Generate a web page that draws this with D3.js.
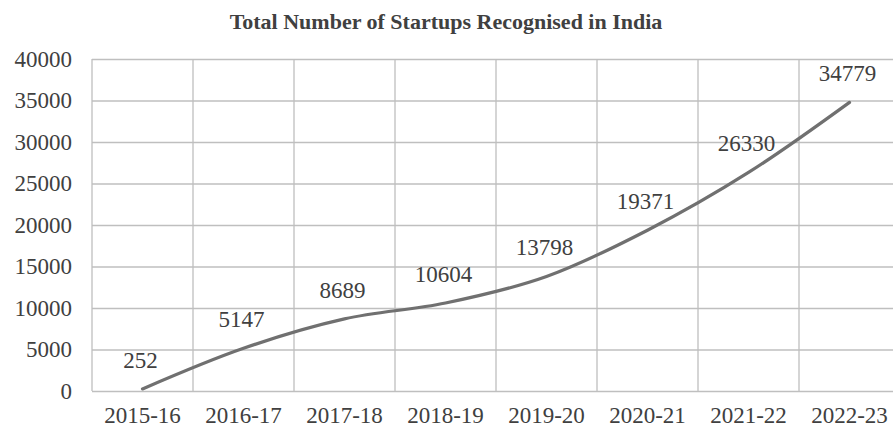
<!DOCTYPE html>
<html>
<head>
<meta charset="utf-8">
<script src="https://cdn.jsdelivr.net/npm/d3@7"></script>
<style>
    body{margin:0;background:#fff;}
    .canvas{width:893px;height:428px;}
</style>
</head>
<body>
<div class="canvas" id="canvas"></div>
<script>
//data
var years = ['2015-16','2016-17','2017-18','2018-19','2019-20','2020-21','2021-22','2022-23'];
var startups = [252,5147,8689,10604,13798,19371,26330,34779];
var yTicks = [0,5000,10000,15000,20000,25000,30000,35000,40000];

var rows = years.map(function(y,i){ return {year:y, count:startups[i]}; });

var serif = '"Liberation Serif","Times New Roman","DejaVu Serif",serif';

var m = {t:59,r:-7,b:37,l:92};
var outerWidth = 893, outerHeight = 428;
var w = outerWidth - m.l - m.r,
    h = outerHeight - m.t - m.b;

var svg = d3.select('.canvas')
    .append('svg')
    .attr('width',outerWidth)
    .attr('height',outerHeight);

svg.append('text')
    .attr('x',446)
    .attr('y',29)
    .attr('text-anchor','middle')
    .style('font-family',serif)
    .style('font-weight','bold')
    .style('font-size','22px')
    .style('fill','#404040')
    .text('Total Number of Startups Recognised in India');

var plot = svg.append('g')
    .attr('transform','translate(' + m.l + ',' + m.t + ')');

var scaleX = d3.scaleBand()
    .domain(years)
    .range([0,w]);
var scaleY = d3.scaleLinear()
    .domain([0,40000])
    .range([h,0]);

//horizontal grid + y labels
var axisY = d3.axisLeft()
    .scale(scaleY)
    .tickValues(yTicks)
    .tickSize(-w)
    .tickPadding(20)
    .tickFormat(d3.format('d'));

var gY = plot.append('g')
    .attr('class','axis axis-y')
    .call(axisY);
gY.select('.domain').remove();
gY.selectAll('line').attr('stroke','#bfbfbf').attr('stroke-width',1.3);
gY.selectAll('text')
    .style('font-family',serif)
    .style('font-size','23px')
    .style('fill','#404040');

//vertical grid at band edges
plot.selectAll('.vgrid')
    .data(years)
    .enter()
    .append('line')
    .attr('class','vgrid')
    .attr('x1',function(d){return scaleX(d);})
    .attr('x2',function(d){return scaleX(d);})
    .attr('y1',0)
    .attr('y2',h)
    .attr('stroke','#bfbfbf')
    .attr('stroke-width',1.3);

//x labels
var axisX = d3.axisBottom()
    .scale(scaleX)
    .tickSize(0)
    .tickPadding(16);
var gX = plot.append('g')
    .attr('class','axis axis-x')
    .attr('transform','translate(0,' + h + ')')
    .call(axisX);
gX.select('.domain').remove();
gX.selectAll('text')
    .style('font-family',serif)
    .style('font-size','23px')
    .style('fill','#404040');

//line
var line = d3.line()
    .x(function(d){return scaleX(d.year) + scaleX.bandwidth()/2;})
    .y(function(d){return scaleY(d.count);})
    .curve(d3.curveCatmullRom.alpha(0.5));

plot.append('path')
    .datum(rows)
    .attr('d',line)
    .attr('fill','none')
    .attr('stroke','#707070')
    .attr('stroke-width',3.2)
    .attr('stroke-linecap','round');

//data labels
plot.selectAll('.label')
    .data(rows)
    .enter()
    .append('text')
    .attr('class','label')
    .attr('x',function(d){return scaleX(d.year) + scaleX.bandwidth()/2 - 2;})
    .attr('y',function(d){return scaleY(d.count) - 21;})
    .attr('text-anchor','middle')
    .style('font-family',serif)
    .style('font-size','23px')
    .style('fill','#404040')
    .text(function(d){return d.count;});
</script>
</body>
</html>
